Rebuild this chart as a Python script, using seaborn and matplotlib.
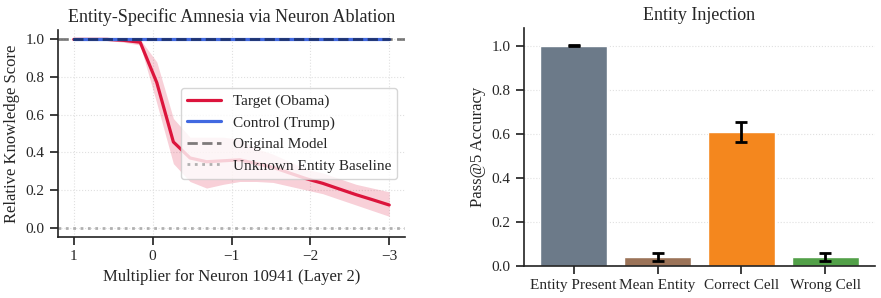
import numpy as np
import pandas as pd
import matplotlib
matplotlib.use('Agg')
import matplotlib.pyplot as plt
import seaborn as sns

# multiplier sweep (left panel)
multipliers = [1.0, 0.789, 0.579, 0.368, 0.158, -0.053, -0.263, -0.474, -0.684, -0.895,
               -1.105, -1.316, -1.526, -1.737, -1.947, -2.158, -2.368, -2.579, -2.789, -3.0]
target_mean = [1.0, 1.0, 1.0, 0.995, 0.985, 0.77, 0.455, 0.37, 0.35, 0.355,
               0.36, 0.34, 0.32, 0.29, 0.26, 0.235, 0.205, 0.175, 0.148, 0.12]
target_low = [1.0, 1.0, 0.995, 0.985, 0.97, 0.66, 0.34, 0.245, 0.21, 0.23,
              0.245, 0.245, 0.24, 0.22, 0.2, 0.18, 0.15, 0.12, 0.09, 0.06]
target_high = [1.0, 1.0, 1.0, 1.0, 1.0, 0.88, 0.58, 0.48, 0.48, 0.48,
               0.47, 0.42, 0.39, 0.35, 0.31, 0.29, 0.26, 0.23, 0.21, 0.19]
control_mean = [1.0] * 20

# entity injection (right panel)
conditions = ['Entity Present', 'Mean Entity', 'Correct Cell', 'Wrong Cell']
accuracy = [1.0, 0.042, 0.607, 0.042]
accuracy_err = [0.002, 0.019, 0.045, 0.019]
bar_colors = ['#6c7a89', '#9b7358', '#f4871e', '#52a048']

sns.set_theme(style='ticks')
plt.rcParams['font.family'] = ['Liberation Serif', 'DejaVu Serif']
plt.rcParams['axes.edgecolor'] = '#222222'
plt.rcParams['axes.linewidth'] = 1.2

fig = plt.figure(figsize=(8.81, 2.98), dpi=100)
ax1 = fig.add_axes([58 / 881, 61 / 298, 347 / 881, 207 / 298])
ax2 = fig.add_axes([524 / 881, 32 / 298, 351 / 881, 238 / 298])

df = pd.DataFrame({'mult': multipliers, 'target': target_mean, 'control': control_mean})

ax1.fill_between(multipliers, target_low, target_high, color='crimson', alpha=0.2, lw=0)
sns.lineplot(data=df, x='mult', y='target', ax=ax1, color='crimson', lw=2.3, label='Target (Obama)')
sns.lineplot(data=df, x='mult', y='control', ax=ax1, color='royalblue', lw=2.3, label='Control (Trump)')
ax1.axhline(1.0, color='black', ls='--', lw=2, alpha=0.5, label='Original Model')
ax1.axhline(0.0, color='darkgray', ls=':', lw=2, alpha=0.9, label='Unknown Entity Baseline')

ax1.set_xlim(1.2, -3.2)
ax1.set_ylim(-0.05, 1.05)
ax1.set_xticks([1, 0, -1, -2, -3])
ax1.set_yticks([0.0, 0.2, 0.4, 0.6, 0.8, 1.0])
ax1.grid(True, ls=':', color='#e0e0e0', lw=0.8)
ax1.set_title('Entity-Specific Amnesia via Neuron Ablation', fontsize=13)
ax1.set_xlabel('Multiplier for Neuron 10941 (Layer 2)', fontsize=12)
ax1.set_ylabel('Relative Knowledge Score', fontsize=12)
ax1.tick_params(labelsize=11)
ax1.legend(loc='center right', fontsize=11, frameon=True, edgecolor='#cccccc',
           framealpha=0.8, handlelength=2.2)
sns.despine(ax=ax1)

sns.barplot(x=conditions, y=accuracy, hue=conditions, palette=bar_colors, ax=ax2,
            errorbar=None, width=0.8, legend=False, saturation=1)
ax2.errorbar(range(len(conditions)), accuracy, yerr=accuracy_err, fmt='none',
             ecolor='black', elinewidth=2, capsize=4, capthick=2)
ax2.set_xlim(-0.59, 3.59)
ax2.set_ylim(0, 1.08)
ax2.set_yticks([0.0, 0.2, 0.4, 0.6, 0.8, 1.0])
ax2.yaxis.grid(True, ls=':', color='#e0e0e0', lw=0.8)
ax2.set_axisbelow(True)
ax2.set_title('Entity Injection', fontsize=13)
ax2.set_ylabel('Pass@5 Accuracy', fontsize=12)
ax2.set_xlabel('')
ax2.tick_params(labelsize=11)
sns.despine(ax=ax2)

fig.savefig('out.png', dpi=100)
